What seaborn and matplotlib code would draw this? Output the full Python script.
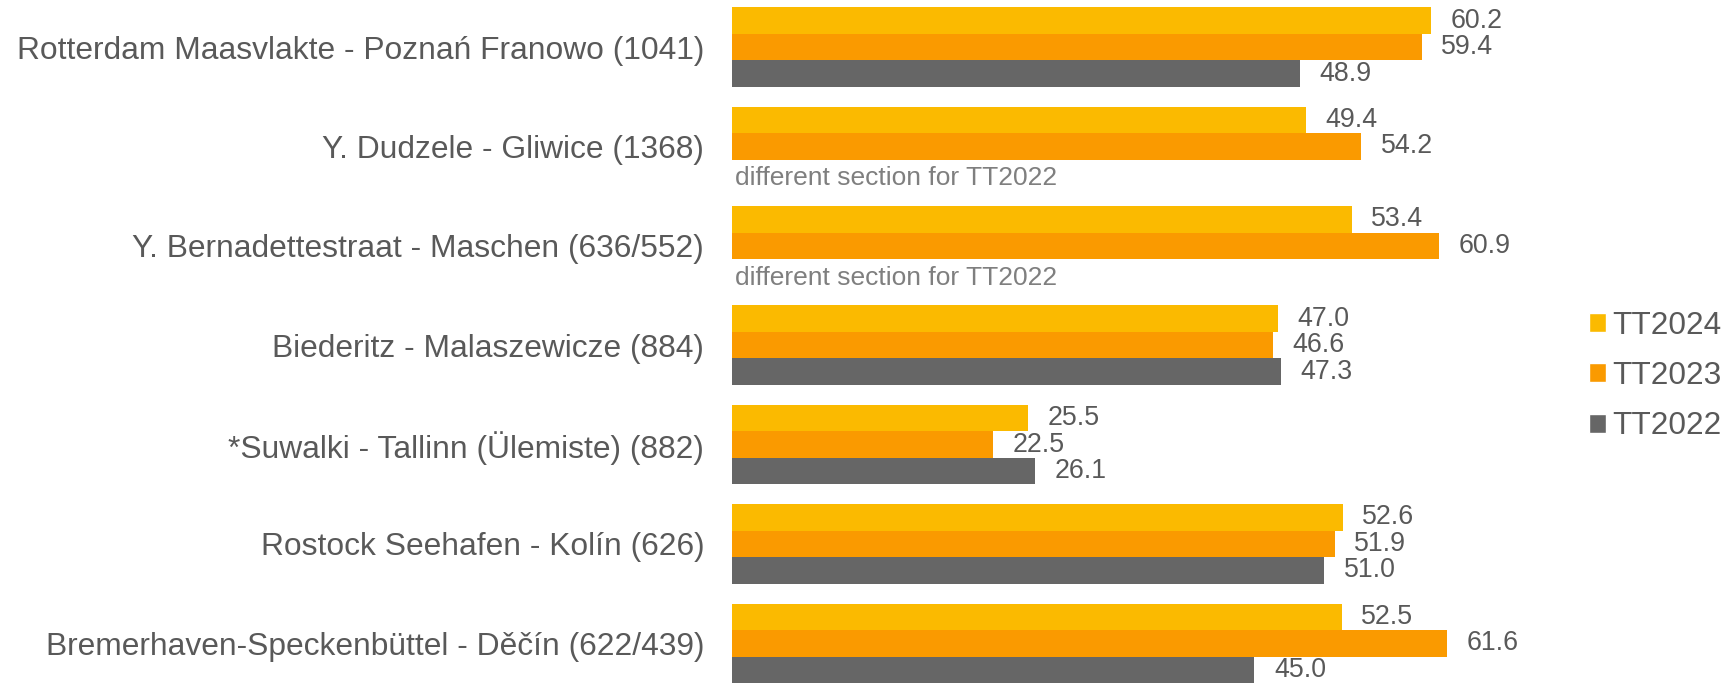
import numpy as np
import pandas as pd
import matplotlib
matplotlib.use("Agg")
import matplotlib.pyplot as plt
from matplotlib.patches import Patch
import seaborn as sns

routes = [
    "Rotterdam Maasvlakte - Poznań Franowo (1041)",
    "Y. Dudzele - Gliwice (1368)",
    "Y. Bernadettestraat - Maschen (636/552)",
    "Biederitz - Malaszewicze (884)",
    "*Suwalki - Tallinn (Ülemiste) (882)",
    "Rostock Seehafen - Kolín (626)",
    "Bremerhaven-Speckenbüttel - Děčín (622/439)",
]
years = ["TT2024", "TT2023", "TT2022"]
tt2024 = [60.2, 49.4, 53.4, 47.0, 25.5, 52.6, 52.5]
tt2023 = [59.4, 54.2, 60.9, 46.6, 22.5, 51.9, 61.6]
tt2022 = [48.9, np.nan, np.nan, 47.3, 26.1, 51.0, 45.0]
note = "different section for TT2022"

colors = {"TT2024": "#FBBA00", "TT2023": "#FA9A00", "TT2022": "#666666"}
TXT = "#595959"

df = pd.DataFrame({
    "route": routes * 3,
    "year": [y for y in years for _ in routes],
    "value": tt2024 + tt2023 + tt2022,
})

sns.set_style("white")
plt.rcParams["font.family"] = ["Liberation Sans", "DejaVu Sans"]

fig = plt.figure(figsize=(17.26, 6.84), dpi=100)
ax = fig.add_axes([732 / 1726, 0, 789.5 / 1726, 1])

sns.barplot(data=df, y="route", x="value", hue="year", order=routes,
            hue_order=years, palette=colors, saturation=1, orient="h",
            width=0.8, linewidth=0, legend=False, ax=ax)

ax.set_xlim(0, 68)
ax.set_ylim(6.41, -0.473)
for c in ax.containers:
    ax.bar_label(c, fmt="%.1f", padding=14, fontsize=19.3, color=TXT)

# note where TT2022 section differs
for i, v in enumerate(tt2022):
    if np.isnan(v):
        ax.text(0.3, i + 0.32, note, fontsize=19, color="#7f7f7f",
                va="center", ha="left")

ax.set_xlabel("")
ax.set_ylabel("")
ax.set_xticks([])
ax.tick_params(axis="y", length=0, pad=20, labelsize=22.9, labelcolor=TXT)
sns.despine(ax=ax, left=True, bottom=True)

handles = [Patch(facecolor=colors[y], label=y) for y in years]
fig.legend(handles=handles, loc="center left",
           bbox_to_anchor=(1589 / 1726, 1 - 376 / 684),
           frameon=False, fontsize=22.7, labelcolor=TXT, handlelength=0.55,
           handleheight=0.55, handletextpad=0.2, labelspacing=0.65,
           borderaxespad=0, borderpad=0)

fig.savefig("out.png", dpi=100)
